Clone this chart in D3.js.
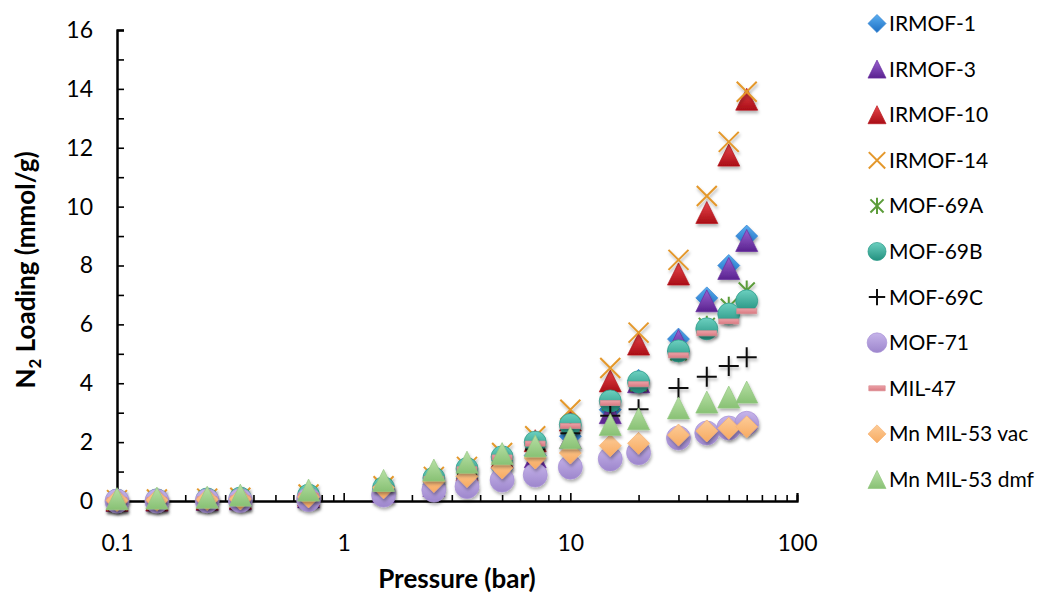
<!DOCTYPE html>
<html>
<head>
<meta charset="utf-8">
<script src="https://cdn.jsdelivr.net/npm/d3@7"></script>
<style>
  html, body { margin: 0; padding: 0; background: #fff; }
  svg { display: block; }
  text { font-family: Lato, "Open Sans", sans-serif; fill: #000; }
</style>
</head>
<body>
<svg id="chart" width="1043" height="593"></svg>
<script>
// Pressure points (bar)
const pressures = [0.1, 0.15, 0.25, 0.35, 0.7, 1.5, 2.5, 3.5, 5, 7, 10, 15, 20, 30, 40, 50, 60];

// N2 loading (mmol/g) for each material at the pressures above
const irmof1   = [0.02, 0.03, 0.05, 0.07, 0.14, 0.33, 0.55, 0.78, 1.10, 1.55, 2.20, 3.10, 4.10, 5.50, 6.90, 8.00, 9.00];
const irmof3   = [0.02, 0.03, 0.05, 0.07, 0.14, 0.32, 0.53, 0.75, 1.07, 1.50, 2.15, 3.00, 4.05, 5.45, 6.80, 7.90, 8.85];
const irmof10  = [0.03, 0.04, 0.07, 0.10, 0.20, 0.45, 0.75, 1.05, 1.50, 2.05, 2.75, 4.08, 5.33, 7.71, 9.80, 11.75, 13.65];
const irmof14  = [0.03, 0.05, 0.08, 0.11, 0.22, 0.50, 0.82, 1.16, 1.63, 2.20, 3.10, 4.52, 5.72, 8.19, 10.36, 12.20, 13.90];
const mof69a   = [0.03, 0.04, 0.07, 0.10, 0.20, 0.45, 0.75, 1.05, 1.45, 1.95, 2.55, 3.35, 4.00, 5.05, 5.95, 6.60, 7.15];
const mof69b   = [0.03, 0.04, 0.07, 0.10, 0.20, 0.45, 0.78, 1.10, 1.50, 2.00, 2.60, 3.40, 4.05, 5.10, 5.85, 6.35, 6.80];
const mof69c   = [0.02, 0.03, 0.05, 0.08, 0.16, 0.38, 0.65, 0.92, 1.30, 1.75, 2.30, 2.90, 3.12, 3.84, 4.22, 4.59, 4.88];
const mof71    = [0.00, 0.00, 0.01, 0.02, 0.05, 0.20, 0.37, 0.49, 0.71, 0.88, 1.15, 1.43, 1.64, 2.14, 2.31, 2.48, 2.64];
const mil47    = [0.03, 0.04, 0.06, 0.09, 0.18, 0.42, 0.75, 1.08, 1.48, 1.95, 2.55, 3.33, 3.97, 4.95, 5.70, 6.10, 6.45];
const mnVac    = [0.02, 0.03, 0.05, 0.07, 0.14, 0.45, 0.66, 0.83, 1.12, 1.46, 1.63, 1.88, 1.96, 2.24, 2.38, 2.47, 2.52];
const mnDmf    = [0.08, 0.10, 0.13, 0.20, 0.37, 0.70, 1.05, 1.32, 1.61, 1.87, 2.15, 2.60, 2.79, 3.16, 3.36, 3.53, 3.70];

const seriesNames = ["IRMOF-1", "IRMOF-3", "IRMOF-10", "IRMOF-14", "MOF-69A", "MOF-69B",
                     "MOF-69C", "MOF-71", "MIL-47", "Mn MIL-53 vac", "Mn MIL-53 dmf"];
const seriesValues = [irmof1, irmof3, irmof10, irmof14, mof69a, mof69b, mof69c, mof71, mil47, mnVac, mnDmf];

// Axis ticks
const xTickLabels = [0.1, 1, 10, 100];
const yTickLabels = [0, 2, 4, 6, 8, 10, 12, 14, 16];

// Marker styling per series
const styles = [
  { shape: "diamond",  size: 11, top: "#5aaef0", bottom: "#1d6fc4", stroke: "#2f80d0" },
  { shape: "triangle", size: 11, top: "#9a62d0", bottom: "#5a2290", stroke: "#6a2fa0" },
  { shape: "triangle", size: 11, top: "#e8464a", bottom: "#a90d16", stroke: "#b81820" },
  { shape: "cross",    size: 10, color: "#e4982c", width: 2 },
  { shape: "star",     size: 10, color: "#5c9c3a", width: 2 },
  { shape: "circle",   size: 11, top: "#6cd0c0", bottom: "#23917f", stroke: "#2a9a88" },
  { shape: "plus",     size: 10, color: "#111111", width: 2 },
  { shape: "circle",   size: 12, top: "#c6b4ea", bottom: "#9d86cc", stroke: "#a892d6" },
  { shape: "dash",     size: 10, top: "#eca2a8", bottom: "#d97a82", stroke: "#dc8a90" },
  { shape: "diamond",  size: 11, top: "#fdcc98", bottom: "#f7ab62", stroke: "#f6b070" },
  { shape: "triangle", size: 11, top: "#b8e0a6", bottom: "#88c174", stroke: "#94c882" }
];

const svg = d3.select("#chart");

const x = d3.scaleLog().domain([0.1, 100]).range([117, 797]);
const y = d3.scaleLinear().domain([0, 16]).range([501, 30]);

const defs = svg.append("defs");
const shadow = defs.append("filter").attr("id", "shadow")
  .attr("x", "-50%").attr("y", "-50%").attr("width", "200%").attr("height", "200%");
shadow.append("feDropShadow").attr("dx", 1).attr("dy", 2.5).attr("stdDeviation", 1.6)
  .attr("flood-color", "#000").attr("flood-opacity", 0.3);

styles.forEach((s, i) => {
  if (!s.top) return;
  const g = defs.append("linearGradient").attr("id", "grad" + i)
    .attr("x1", 0).attr("y1", 0).attr("x2", 0).attr("y2", 1);
  g.append("stop").attr("offset", "0%").attr("stop-color", s.top);
  g.append("stop").attr("offset", "100%").attr("stop-color", s.bottom);
});

function markerPath(shape, s) {
  switch (shape) {
    case "diamond":  return `M0,${-s}L${s},0L0,${s}L${-s},0Z`;
    case "triangle": return `M0,${-s}L${s},${s}L${-s},${s}Z`;
    case "circle":   return `M${s},0A${s},${s} 0 1,1 ${-s},0A${s},${s} 0 1,1 ${s},0Z`;
    case "dash":     return `M${-s},${-2.5}H${s}V${2.5}H${-s}Z`;
    case "cross":    return `M${-s},${-s}L${s},${s}M${s},${-s}L${-s},${s}`;
    case "plus":     return `M${-s},0H${s}M0,${-s}V${s}`;
    case "star": {
      const d = s * 0.8;
      return `M${-d},${-d}L${d},${d}M${d},${-d}L${-d},${d}M0,${-s}V${s}`;
    }
  }
}

function styleMarker(sel, i) {
  const s = styles[i];
  if (s.color) {
    sel.attr("fill", "none").attr("stroke", s.color).attr("stroke-width", s.width)
      .attr("stroke-linecap", "butt");
  } else {
    sel.attr("fill", `url(#grad${i})`).attr("stroke", s.stroke).attr("stroke-width", 1)
      .attr("stroke-opacity", 0.7);
  }
}

// Axes
const axisColor = "#000";
const yMinor = d3.range(1, 16, 2);
const xMinor = [];
[0.1, 1, 10].forEach(dec => { for (let k = 2; k <= 9; k++) xMinor.push(+(dec * k).toPrecision(3)); });

const gx = svg.append("g").attr("transform", `translate(0,${y(0)})`);
gx.call(d3.axisBottom(x).tickValues(xMinor).tickSize(-6).tickFormat(""));
gx.append("g").call(d3.axisBottom(x).tickValues(xTickLabels).tickSize(-8).tickPadding(34)
  .tickFormat(d => d3.format("")(d)));

const gy = svg.append("g").attr("transform", `translate(${x(0.1)},0)`);
gy.call(d3.axisLeft(y).tickValues(yMinor).tickSize(-7).tickFormat(""));
gy.append("g").call(d3.axisLeft(y).tickValues(yTickLabels).tickSize(-7).tickPadding(24));

svg.selectAll(".domain").attr("stroke", axisColor).attr("stroke-width", 2);
svg.selectAll(".tick line").attr("stroke", axisColor).attr("stroke-width", 1.6);
svg.selectAll(".tick text").attr("font-family", "Lato, sans-serif").attr("font-size", 23).attr("fill", "#000");

// Axis titles
svg.append("text").attr("x", 457).attr("y", 588).attr("text-anchor", "middle")
  .attr("font-size", 26).attr("font-weight", "bold").text("Pressure (bar)");

const yt = svg.append("text").attr("transform", "translate(35,270) rotate(-90)")
  .attr("text-anchor", "middle").attr("font-size", 26).attr("font-weight", "bold");
yt.append("tspan").text("N");
yt.append("tspan").attr("font-size", 17).attr("dy", 6).text("2");
yt.append("tspan").attr("dy", -6).text(" Loading (mmol/g)");

// Data markers, drawn in series order
const plot = svg.append("g");
seriesValues.forEach((vals, i) => {
  const st = styles[i];
  const pts = pressures.map((p, j) => [p, vals[j]]);
  plot.append("g").attr("filter", "url(#shadow)")
    .selectAll("path").data(pts).join("path")
    .attr("transform", d => `translate(${x(d[0])},${y(d[1])})`)
    .attr("d", markerPath(st.shape, st.size))
    .call(sel => styleMarker(sel, i));
});

// Legend
const legend = svg.append("g");
seriesNames.forEach((name, i) => {
  const st = styles[i];
  const ly = 23.5 + i * 45.6;
  legend.append("path")
    .attr("transform", `translate(877,${ly})`)
    .attr("d", markerPath(st.shape, st.size * 0.82))
    .call(sel => styleMarker(sel, i));
  legend.append("text").attr("x", 889).attr("y", ly).attr("dy", "0.36em")
    .attr("font-size", 21).text(name);
});
</script>
</body>
</html>
